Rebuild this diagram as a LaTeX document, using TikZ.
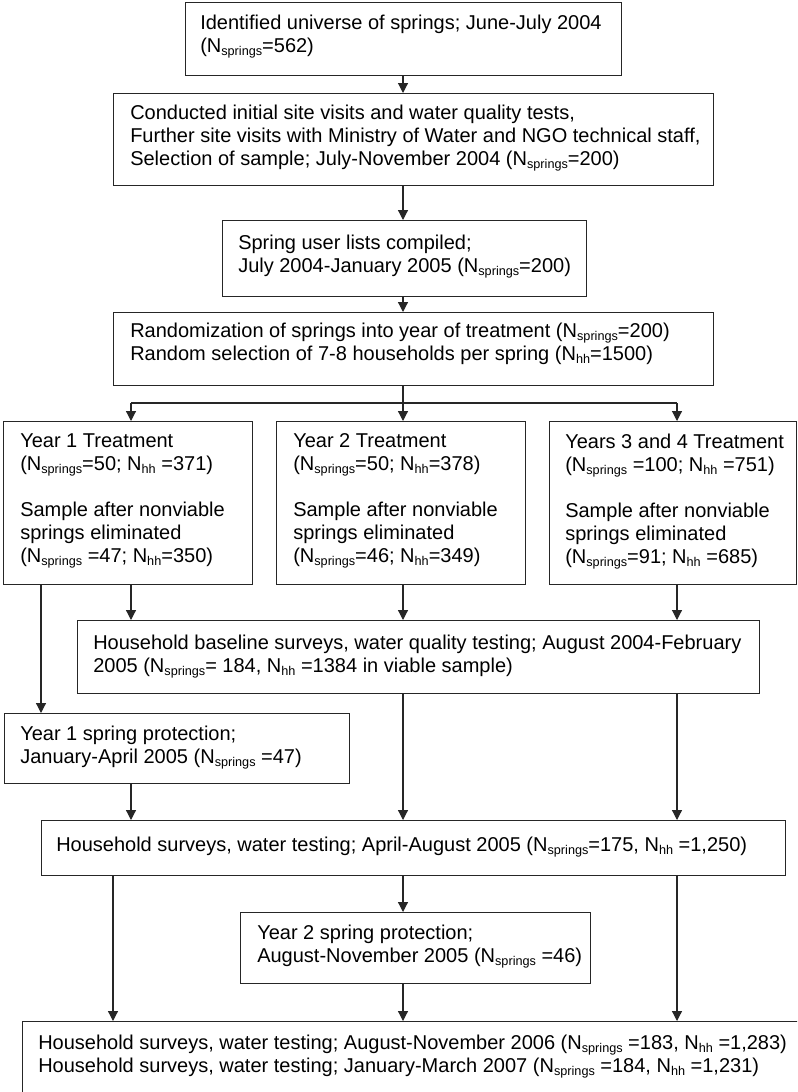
\documentclass[tikz,border=0pt]{standalone}
\usepackage{fontspec}
\setmainfont{Liberation Sans}
\usetikzlibrary{arrows.meta,calc}
\newcommand\sbs[1]{\raisebox{-2.2pt}{\fontsize{9.5}{9.5}\selectfont #1}}
\newcommand\Ns{N\sbs{springs}}
\newcommand\Nh{N\sbs{hh}}
\newcommand\bx[5]{\node[box, minimum width=#4*0.75pt, minimum height=#5*0.75pt] (#1) at (#2,#3) {};}
\newcommand\tx[4]{\node[txt] (#1) at (#2,#3-7.5) {#4};}
\tikzset{
  x=0.75pt, y=-0.75pt,
  box/.style={draw=black!85, line width=0.9pt, anchor=north west, inner sep=0pt, fill=none},
  txt/.style={anchor=north west, inner sep=0pt, align=left, font=\fontsize{15}{17.25}\selectfont},
  arr/.style={draw=black!85, line width=0.9pt, -{Triangle[length=7.5pt,width=7.5pt]}},
  ln/.style={draw=black!85, line width=0.9pt},
}
\begin{document}
\begin{tikzpicture}
\clip (0,0) rectangle (797,1092);
\fill[white] (0,0) rectangle (797,1092);
% guide coordinates
\coordinate (xA) at (41,0);
\coordinate (xB) at (113,0);
\coordinate (xC) at (131,0);
\coordinate (xM) at (403,0);
\coordinate (xR) at (677,0);
\coordinate (split) at (403,403);
% boxes
\bx{b1}{185}{2}{436}{73}
\bx{b2}{113}{93}{600}{92}
\bx{b3}{222}{220}{364}{76}
\bx{b4}{113}{312}{600}{73}
\bx{b5}{3}{421}{249}{163}
\bx{b6}{276}{421}{249}{163}
\bx{b7}{549}{421}{247}{163}
\bx{b8}{77}{620}{682}{73}
\bx{b9}{4}{713}{345}{70}
\bx{b10}{41}{820}{744}{55}
\bx{b11}{240}{912}{350}{71}
\bx{b12}{22}{1021}{800}{100}
% texts
\tx{t1}{200}{22}{Identified universe of springs; June-July 2004\\(\Ns=562)}
\tx{t2}{130}{112}{Conducted initial site visits and water quality tests,\\Further site visits with Ministry of Water and NGO technical staff,\\Selection of sample; July-November 2004 (\Ns=200)}
\tx{t3}{238}{242}{Spring user lists compiled;\\July 2004-January 2005 (\Ns=200)}
\tx{t4}{130}{330}{Randomization of springs into year of treatment (\Ns=200)\\Random selection of 7-8 households per spring (\Nh=1500)}
\tx{t5}{20}{441}{Year 1 Treatment\\(\Ns=50; \Nh\ =371)\\[17.25pt]Sample after nonviable\\springs eliminated\\(\Ns\ =47; \Nh=350)}
\tx{t6}{293}{441}{Year 2 Treatment\\(\Ns=50; \Nh=378)\\[17.25pt]Sample after nonviable\\springs eliminated\\(\Ns=46; \Nh=349)}
\tx{t7}{565}{441}{Years 3 and 4 Treatment\\(\Ns\ =100; \Nh\ =751)\\[17.25pt]Sample after nonviable\\springs eliminated\\(\Ns=91; \Nh\ =685)}
\tx{t8}{93}{642}{Household baseline surveys, water quality testing; August 2004-February\\2005 (\Ns= 184, \Nh\ =1384 in viable sample)}
\tx{t9}{20}{733}{Year 1 spring protection;\\January-April 2005 (\Ns\ =47)}
\tx{t10}{56}{844}{Household surveys, water testing; April-August 2005 (\Ns=175, \Nh\ =1,250)}
\tx{t11}{257}{932}{Year 2 spring protection;\\August-November 2005 (\Ns\ =46)}
\tx{t12}{38}{1042}{Household surveys, water testing; August-November 2006 (\Ns\ =183, \Nh\ =1,283)\\Household surveys, water testing; January-March 2007 (\Ns\ =184, \Nh\ =1,231)}
% connectors
\draw[arr] (b1.south -| xM) -- (b2.north -| xM);
\draw[arr] (b2.south -| xM) -- (b3.north -| xM);
\draw[arr] (b3.south -| xM) -- (b4.north -| xM);
\draw[ln] (b4.south -| xM) -- (split);
\draw[ln] (split -| xC) -- (split -| xR);
\draw[arr] (split -| xC) -- (b5.north -| xC);
\draw[arr] (split) -- (b6.north -| xM);
\draw[arr] (split -| xR) -- (b7.north -| xR);
\draw[arr] (b5.south -| xC) -- (b8.north -| xC);
\draw[arr] (b6.south -| xM) -- (b8.north -| xM);
\draw[arr] (b7.south -| xR) -- (b8.north -| xR);
\draw[arr] (b5.south -| xA) -- (b9.north -| xA);
\draw[arr] (b9.south -| xC) -- (b10.north -| xC);
\draw[arr] (b8.south -| xM) -- (b10.north -| xM);
\draw[arr] (b8.south -| xR) -- (b10.north -| xR);
\draw[arr] (b10.south -| xM) -- (b11.north -| xM);
\draw[arr] (b10.south -| xB) -- (b12.north -| xB);
\draw[arr] (b10.south -| xR) -- (b12.north -| xR);
\draw[arr] (b11.south -| xM) -- (b12.north -| xM);
\end{tikzpicture}
\end{document}
